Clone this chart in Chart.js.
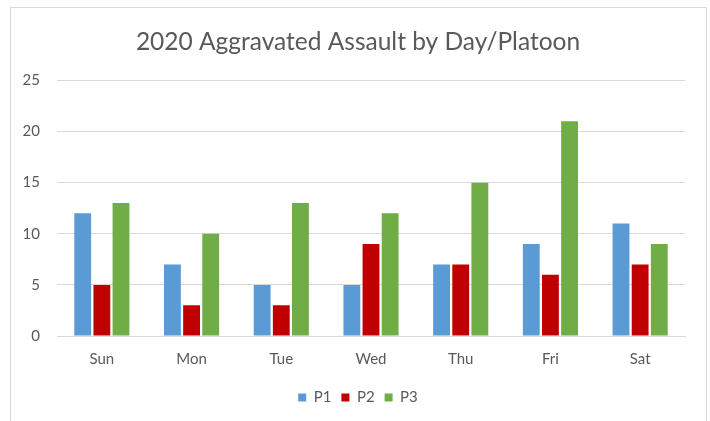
<!DOCTYPE html>
<html>
<head>
<meta charset="utf-8">
<script src="https://cdn.jsdelivr.net/npm/chart.js@4"></script>
<style>
  html, body { margin: 0; padding: 0; background: #fff; }
  #frame { position: absolute; left: 10px; top: 7px; width: 695px; height: 430px; border: 1px solid #d9d9d9; }
  #wrap { position: absolute; left: 0; top: 0; width: 710px; height: 421px; }
</style>
</head>
<body>
<div id="frame"></div>
<div id="wrap"><canvas id="chart"></canvas></div>
<script>
// values
const days = ['Sun', 'Mon', 'Tue', 'Wed', 'Thu', 'Fri', 'Sat'];
const p1 = [12, 7, 5, 5, 7, 9, 11];
const p2 = [5, 3, 3, 9, 7, 6, 7];
const p3 = [13, 10, 13, 12, 15, 21, 9];
const yTicks = [0, 5, 10, 15, 20, 25];

const txt = '#595959';
const grid = '#d9d9d9';
const fam = 'Lato, "Noto Sans", sans-serif';

// title and legend are centred on the whole frame, not on the plot
const centreOnFrame = {
  id: 'centreOnFrame',
  afterLayout(chart) {
    chart.titleBlock.left += 31;
    chart.legend.left += 31;
  }
};

new Chart(document.getElementById('chart'), {
  type: 'bar',
  data: {
    labels: days,
    datasets: [
      { label: 'P1', data: p1, backgroundColor: '#5b9bd5' },
      { label: 'P2', data: p2, backgroundColor: '#c00000' },
      { label: 'P3', data: p3, backgroundColor: '#70ad47' }
    ]
  },
  plugins: [centreOnFrame],
  options: {
    responsive: true,
    maintainAspectRatio: false,
    animation: false,
    datasets: { bar: { categoryPercentage: 0.64, barPercentage: 0.88 } },
    layout: { padding: { left: 0, right: 25, top: 0, bottom: 6 } },
    plugins: {
      title: {
        display: true,
        text: '2020 Aggravated Assault by Day/Platoon',
        color: txt,
        font: { family: fam, size: 24.5, weight: 'normal' },
        padding: { top: 27, bottom: 24 }
      },
      legend: {
        position: 'bottom',
        labels: {
          color: txt,
          font: { family: fam, size: 15 },
          boxWidth: 8,
          boxHeight: 8,
          padding: 10
        }
      },
      tooltip: { enabled: false }
    },
    scales: {
      x: {
        grid: { display: false },
        border: { color: grid },
        ticks: { color: txt, font: { family: fam, size: 15 }, padding: 6 },
        afterFit: s => { s.height = 44; }
      },
      y: {
        min: 0,
        max: 25,
        afterBuildTicks: s => { s.ticks = yTicks.map(v => ({ value: v })); },
        grid: { color: grid, drawTicks: false },
        border: { display: false },
        ticks: { color: txt, font: { family: fam, size: 15 }, padding: 17 },
        afterFit: s => { s.width = 57; }
      }
    }
  }
});
</script>
</body>
</html>
